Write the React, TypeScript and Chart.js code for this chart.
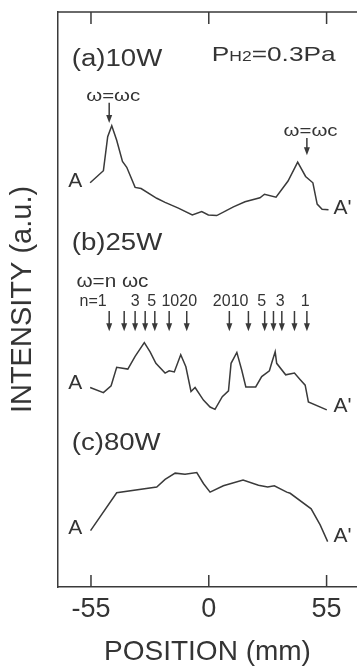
import { useEffect, useRef } from "react";
import { Chart, registerables } from "chart.js";

Chart.register(...registerables);

// ---- data (position in mm, intensity in a.u. relative to each panel baseline) ----
const positionTicks = [-55, 0, 55];

const posA = [-55.4, -49.2, -47.2, -45.3, -43.0, -40.3, -38.3, -34.4, -31.6, -24.3, -20.4, -14.2, -7.7, -3.3, -0.2, 3.7, 11.5, 16.9, 23.9, 26.0, 31.4, 37.0, 41.5, 45.2, 48.6, 50.6, 52.9, 55.9];
const intA = [10.3, 12.4, 18.3, 20.2, 17.7, 14.0, 13.0, 9.5, 9.3, 7.6, 6.9, 5.9, 4.7, 5.3, 4.7, 4.6, 6.1, 7.0, 7.7, 8.3, 7.8, 10.6, 13.9, 11.4, 10.3, 6.6, 5.7, 5.6];

const posB = [-55.4, -49.2, -45.6, -43.0, -37.8, -34.4, -30.1, -27.4, -24.7, -20.4, -18.5, -16.1, -13.1, -10.7, -8.3, -6.4, -2.5, 0.6, 2.9, 6.3, 9.2, 10.4, 13.1, 15.4, 17.3, 21.9, 24.7, 28.3, 29.4, 31.0, 31.7, 35.9, 40.0, 42.6, 45.0, 46.5, 55.1];
const intB = [4.7, 3.8, 5.0, 8.2, 7.9, 10.1, 12.5, 10.9, 8.9, 7.2, 7.6, 7.4, 10.4, 8.3, 4.0, 4.7, 2.5, 1.3, 0.9, 3.1, 4.1, 8.9, 10.8, 7.7, 4.8, 4.8, 6.6, 7.6, 9.0, 10.9, 8.9, 6.9, 7.2, 6.1, 5.1, 2.2, 0.8];

const posC = [-55.2, -43.0, -24.3, -20.4, -15.7, -11.1, -5.6, -2.5, 0.6, 6.8, 16.0, 23.2, 27.5, 30.6, 36.4, 38.0, 47.8, 52.0, 55.5];
const intC = [9.8, 16.4, 17.4, 18.7, 19.8, 19.6, 19.9, 18.0, 16.5, 17.6, 18.6, 17.7, 17.4, 17.6, 16.5, 16.3, 13.6, 10.8, 7.9];

const panelNames = ["(a)10W", "(b)25W", "(c)80W"];
const panelOffsets = [60, 30, 0];

// cyclotron resonance (omega = omega_c) in panel (a)
const resonancePosA = [-46.5, 45.8];
const resonanceTopA = [24.2, 18.1];
const resonanceBottomA = [20.7, 15.1];
const resonanceLabelPosA = [-44.6, 47.5];
const resonanceLabelYA = [25.3, 19.2];

// harmonic resonances (omega = n omega_c) in panel (b)
const harmonicN = [1, 2, 3, 4, 5, 10, 20, 20, 10, 5, 4, 3, 2, 1];
const harmonicPos = [-46.5, -39.5, -34.4, -29.7, -25.2, -18.5, -10.3, 9.6, 18.5, 26.1, 30.2, 34.1, 40.0, 45.8];
const harmonicTopB = 18.0;
const harmonicBottomB = 14.5;
const harmonicLabels = ["n=1", "3", "5", "1020", "2010", "5", "3", "1"];
const harmonicLabelPos = [-54.0, -34.4, -26.6, -13.8, 10.2, 24.7, 33.3, 45.0];

const TEXT = "#343434";
const LINE = "#3a3a3a";
const FONT = '"Liberation Sans", Arial, sans-serif';

function toPoints(xs: number[], ys: number[], off: number) {
  return xs.map((v, i) => ({ x: v, y: ys[i] + off }));
}

const annotations = {
  id: "annotations",
  afterDraw(chart: any) {
    const { ctx, chartArea, scales } = chart;
    const xs = scales.x;
    const ys = scales.y;
    const X = (v: number) => xs.getPixelForValue(v);
    const Y = (v: number) => ys.getPixelForValue(v);
    ctx.save();
    // frame: top border and inward ticks
    ctx.strokeStyle = LINE;
    ctx.lineWidth = 1.5;
    ctx.beginPath();
    ctx.moveTo(chartArea.left, chartArea.top);
    ctx.lineTo(chartArea.right, chartArea.top);
    positionTicks.forEach((v) => {
      const px = X(v);
      ctx.moveTo(px, chartArea.top);
      ctx.lineTo(px, chartArea.top + 12);
      ctx.moveTo(px, chartArea.bottom);
      ctx.lineTo(px, chartArea.bottom - 12);
    });
    ctx.stroke();

    const text = (s: string, xv: number, yv: number, size: number, align: string, stretch = 1) => {
      ctx.save();
      ctx.font = `${size}px ${FONT}`;
      ctx.fillStyle = TEXT;
      ctx.textBaseline = "middle";
      ctx.textAlign = align;
      ctx.translate(X(xv), Y(yv));
      ctx.scale(stretch, 1);
      ctx.fillText(s, 0, 0);
      ctx.restore();
    };
    const arrow = (xv: number, top: number, bottom: number) => {
      const px = X(xv);
      const t = Y(top);
      const b = Y(bottom);
      ctx.beginPath();
      ctx.lineWidth = 1.5;
      ctx.strokeStyle = LINE;
      ctx.moveTo(px, t);
      ctx.lineTo(px, b - 6);
      ctx.stroke();
      ctx.beginPath();
      ctx.fillStyle = LINE;
      ctx.moveTo(px - 3, b - 8);
      ctx.lineTo(px + 3, b - 8);
      ctx.lineTo(px, b);
      ctx.closePath();
      ctx.fill();
    };

    // panel titles
    const titleY = [31.7, 29.7, 25.0];
    panelNames.forEach((n, i) => text(n, -64.0, titleY[i] + panelOffsets[i], 23, "left", 1.2));

    // A / A' end labels
    const aY = [10.5, 5.4, 10.3];
    const a2Y = [5.9, 1.4, 8.9];
    panelOffsets.forEach((off, i) => {
      text("A", -62.4, aY[i] + off, 21, "center");
      text("A'", 62.4, a2Y[i] + off, 21, "center");
    });

    // P_H2 = 0.3Pa
    {
      ctx.save();
      const st = 1.25;
      let px = X(1.4);
      const py = Y(32.7 + panelOffsets[0]);
      ctx.fillStyle = TEXT;
      ctx.textBaseline = "alphabetic";
      ctx.textAlign = "left";
      const base = py + 7.5;
      const parts: [string, number][] = [["P", 21], ["H2", 14], ["=0.3Pa", 21]];
      parts.forEach(([s, sz]) => {
        ctx.font = `${sz}px ${FONT}`;
        ctx.save();
        ctx.translate(px, base);
        ctx.scale(st, 1);
        ctx.fillText(s, 0, 0);
        ctx.restore();
        px += ctx.measureText(s).width * st;
      });
      ctx.restore();
    }

    // omega = omega_c arrows (a)
    resonancePosA.forEach((p, i) => {
      arrow(p, resonanceTopA[i] + panelOffsets[0], resonanceBottomA[i] + panelOffsets[0]);
      text("ω=ωc", resonanceLabelPosA[i], resonanceLabelYA[i] + panelOffsets[0], 17, "center", 1.2);
    });

    // omega = n omega_c arrows (b)
    harmonicPos.forEach((p, i) => {
      if (harmonicN[i] > 0) arrow(p, harmonicTopB + panelOffsets[1], harmonicBottomB + panelOffsets[1]);
    });
    text("ω=n ωc", -61.8, 23.1 + panelOffsets[1], 18, "left", 1.15);
    harmonicLabels.forEach((s, i) => text(s, harmonicLabelPos[i], 19.7 + panelOffsets[1], 16, "center", 1.0));

    ctx.restore();
  },
};

export default function App() {
  const ref = useRef<HTMLCanvasElement | null>(null);
  useEffect(() => {
    if (!ref.current) return;
    const ds = (xs: number[], ys: number[], off: number) => ({
      data: toPoints(xs, ys, off),
      borderColor: LINE,
      borderWidth: 1.5,
      pointRadius: 0,
      tension: 0,
      fill: false,
    });
    const chart = new Chart(ref.current, {
      type: "line",
      data: {
        datasets: [
          ds(posA, intA, panelOffsets[0]),
          ds(posB, intB, panelOffsets[1]),
          ds(posC, intC, panelOffsets[2]),
        ],
      },
      options: {
        animation: false,
        responsive: true,
        maintainAspectRatio: false,
        layout: { padding: { top: 12, left: 0, right: 0, bottom: 0 } },
        plugins: { legend: { display: false }, tooltip: { enabled: false } },
        scales: {
          x: {
            type: "linear",
            min: -70.4,
            max: 69.2,
            afterBuildTicks: (s: any) => {
              s.ticks = positionTicks.map((v) => ({ value: v }));
            },
            afterFit: (s: any) => {
              s.height = 79;
            },
            grid: { drawOnChartArea: false, drawTicks: false },
            border: { display: true, color: LINE, width: 1.5 },
            ticks: {
              autoSkip: false,
              maxRotation: 0,
              padding: 6,
              color: TEXT,
              font: { family: FONT, size: 27 },
              callback: (v: any) => String(v),
            },
            title: {
              display: true,
              text: "POSITION (mm)",
              color: TEXT,
              font: { family: FONT, size: 28, lineHeight: 1.0 },
              padding: { top: 0, bottom: 0 },
            },
          },
          y: {
            type: "linear",
            min: 0,
            max: 100,
            afterFit: (s: any) => {
              s.width = 58;
            },
            grid: { display: false, drawTicks: false },
            border: { display: true, color: LINE, width: 1.5 },
            ticks: { display: false },
            title: {
              display: true,
              text: "INTENSITY (a.u.)",
              color: TEXT,
              font: { family: FONT, size: 29, lineHeight: 1.2 },
              padding: { top: 6, bottom: 0 },
            },
          },
        },
      },
      plugins: [annotations],
    } as any);
    return () => chart.destroy();
  }, []);
  return (
    <div style={{ position: "fixed", left: 0, top: 0, width: 357, height: 666, background: "#fff" }}>
      <canvas ref={ref} />
    </div>
  );
}
